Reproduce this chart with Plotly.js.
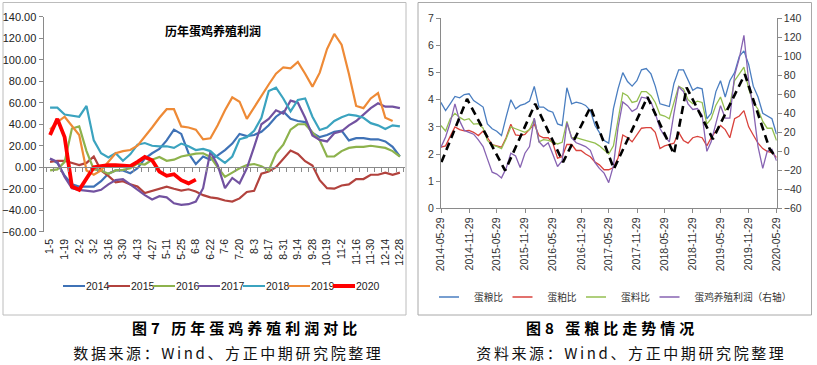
<!DOCTYPE html>
<html><head><meta charset="utf-8">
<script src="https://cdn.plot.ly/plotly-3.0.1.min.js"></script>
<style>html,body{margin:0;padding:0;background:#fff;overflow:hidden}#chart{width:817px;height:365px}</style>
</head><body><div id="chart"></div>
<script>
// ---------- Figure 7: weekly layer-farming profit by year ----------
const weeks = ["1-5","1-12","1-19","1-26","2-2","2-23","3-2","3-9","3-16","3-23","3-30","4-6","4-13","4-20","4-27","5-4","5-11","5-18","5-25","6-1","6-8","6-15","6-22","6-29","7-6","7-13","7-20","7-27","8-3","8-10","8-17","8-24","8-31","9-7","9-14","9-21","9-28","10-12","10-19","10-26","11-2","11-9","11-16","11-23","11-30","12-7","12-14","12-21","12-28"];
const years = ["2014","2015","2016","2017","2018","2019","2020"];
const profit2014 = [8,4,-8,-16,-18,-18,-18,-13,-6,-3,-3,-5.6,-1,8,13,17,25,35,31,13,3,10,7,11,16,22,31,29,30,33,39,47,52,45,43,42,32,28,30,33,34,25,27,27,26,26,24,19,10];
const profit2015 = [5,6,6,3.7,2,4,10,-3,-8,-14,-13,-16,-18,-24,-22,-20,-18,-20,-21.7,-20.5,-22.6,-26,-28,-29,-31,-32,-29,-23,-22,-6,-4,0,8,15.5,12.4,5.6,1.5,-12,-19.5,-20,-17,-16,-11,-11,-7,-7,-5,-7,-5];
const profit2016 = [-3,-2,5,36,38,15,-2,-3,-6,-3,-2.5,-1,3.4,2.5,7,9.6,6,7,10,11,12.7,13,9.6,0,-9,-5,-1,2,3,1,-3,13,21,35,40,40,32,25,10,10,15,18,19,19,20,19,18,15,10];
const profit2017 = [8,5,-9,-19.5,-21,-22,-22.6,-21,-16,-12,-11,-16,-21,-26,-30,-27,-28,-33.5,-35,-34.4,-32,-19.5,14.5,2,-19.5,-10,-15,-1,19,40,45,53,50,62,60,46,29.5,25.4,24,31.6,33.5,39,43,49,55,59.5,56.4,56.4,55];
const profit2018 = [55.5,55.5,49,48,47,57,25,13,9,13,6,12,21,22.5,20,19.5,19.5,18,22,19.5,16,17,15,9,4,10,26,28,34,46,71,74,64,52,62.6,64,47,34.7,37,43,46.5,49,48,46,41,39,35.6,39,38];
const profit2019 = [35,42,47,39,30,-3,-7,-3,5,13,15,16,20,28,37,46,54,54,38,37,35,26,27,39,53,65,61,45,56,67,77,87,93,92,98,87,75,88,110,124,114,87,57,55,64,69,46,43];
const profit2020 = [30,45,28,-18,-21,-10,0,1,2,2,1.5,1,5,9.5,6.5,-4,-8,-6.5,-12,-15,-11.5];
const profitByYear = [profit2014,profit2015,profit2016,profit2017,profit2018,profit2019,profit2020];

// ---------- Figure 8: egg / feed price ratios (monthly, 2014-05 .. 2020-05) ----------
const ratioTicks = ["2014-05-29","2014-11-29","2015-05-29","2015-11-29","2016-05-29","2016-11-29","2017-05-29","2017-11-29","2018-05-29","2018-11-29","2019-05-29","2019-11-29","2020-05-29"];
const eggGrain = [3.9,3.6,3.85,4.12,4.07,4.19,4.22,3.97,3.85,3.73,3.11,2.93,2.84,2.68,3.36,4.0,3.67,3.79,3.85,3.95,4.49,3.73,3.73,3.6,3.54,3.11,3.05,4.44,3.85,3.91,3.87,3.79,3.6,3.05,2.8,2.5,2.4,3.67,4.4,5.0,4.67,4.5,4.7,5.1,5.15,4.95,4.5,3.85,3.8,3.75,4.6,5.1,5.1,4.7,4.35,4.45,4.4,3.3,3.5,4.3,4.7,4.1,4.7,5.0,5.6,5.8,5.3,4.5,4.1,3.5,3.4,3.3,2.73];
const eggMeal = [2.25,2.3,2.65,3.0,2.9,2.85,2.87,2.8,2.68,2.85,2.6,2.35,2.3,2.25,2.6,3.1,2.7,2.68,2.72,2.9,3.1,2.68,2.6,2.6,2.4,1.85,1.9,2.35,2.35,2.13,2.13,2.0,1.9,1.7,1.6,1.42,1.42,1.5,1.85,2.7,2.6,2.45,2.7,2.95,2.97,2.97,2.8,2.2,2.3,2.35,2.4,2.8,2.5,2.4,2.6,2.65,2.6,2.3,2.6,2.85,3.05,2.9,2.6,3.3,3.4,3.6,3.0,2.7,2.4,2.2,2.1,2.05,1.87];
const eggFeed = [3.05,2.85,3.3,3.5,3.35,3.25,3.3,3.1,3.12,2.95,2.5,2.33,2.28,2.2,2.55,3.0,2.93,2.87,2.8,2.9,3.3,2.45,2.53,2.5,2.43,2.37,2.43,3.2,2.6,2.6,2.55,2.5,2.45,2.4,2.3,2.15,2.0,2.3,3.2,4.25,4.15,3.9,3.95,4.3,4.3,4.15,3.9,3.45,3.4,3.3,3.9,4.5,4.4,4.0,3.85,3.95,3.9,3.1,3.3,3.8,4.1,3.6,3.8,4.7,4.95,5.2,4.4,3.9,3.65,3.2,2.95,2.95,2.5];
const layerProfit = [4,15,30,50,32,22,20,18,12,5,-8,-22,-24,-28,-18,-2,-5,-17,-2,5,35,10,5,9,-3,-16,-10,30,14,9,7,5,1,-12,-18,-23,-33,-15,25,52,48,42,45,57,56,52,40,24,16,10,40,68,63,50,44,45,38,0,10,30,48,35,35,80,98,122,74,45,5,-18,0,2,-10];
const cycleDates = ["2014-06-01","2014-11-15","2015-07-22","2016-02-03","2016-08-03","2017-01-29","2017-07-01","2018-02-05","2018-07-28","2018-10-19","2019-04-08","2019-11-03","2020-04-12","2020-05-08"];
const cycleValues = [-11.4,55.1,-20.3,50,-11.4,46.6,-18.6,57.1,-2.9,67.1,12.9,81.1,2.9,-2.9];
const ratioNames = ["蛋粮比","蛋粕比","蛋料比","蛋鸡养殖利润（右轴）"];

const monthDates = [];
for (let y = 2014; y <= 2020; y++) {
  for (let m = 1; m <= 12; m++) {
    if ((y === 2014 && m < 5) || (y === 2020 && m > 5)) continue;
    monthDates.push(y + "-" + String(m).padStart(2, "0") + "-28");
  }
}

const narrow = '"Liberation Sans Narrow", "Arial Narrow", "Liberation Sans", Arial, sans-serif';
const sans = '"Liberation Sans", Arial, sans-serif';
const cjk = '"Noto Sans CJK SC", "Noto Sans", sans-serif';
const axisGray = "#8a8a8a";

const weekIdx = weeks.map((_, i) => i);
const tickIdx = weekIdx.filter(i => i % 2 === 0);
const tickLab = tickIdx.map(i => weeks[i]);

const leftColors = ["#3F72B6","#B2423D","#8DB24C","#7252A0","#3BA3BF","#EE8A36","#FF0000"];
const traces = [];
years.forEach((yr, k) => {
  traces.push({
    type: "scatter", mode: "lines", name: yr,
    x: weekIdx, y: profitByYear[k],
    xaxis: yr === "2020" ? "x3" : "x", yaxis: "y",
    line: {color: leftColors[k], width: yr === "2020" ? 3.8 : 2.2},
    legend: "legend", hoverinfo: "skip"
  });
});

const rightColors = ["#4A7EC0","#D9423C","#94BF50","#8763B2"];
const rightSeries = [eggGrain, eggMeal, eggFeed, layerProfit];
rightSeries.forEach((s, k) => {
  traces.push({
    type: "scatter", mode: "lines", name: ratioNames[k],
    x: monthDates, y: s,
    xaxis: "x2", yaxis: k === 3 ? "y3" : "y2",
    line: {color: rightColors[k], width: 1.3},
    legend: "legend2", hoverinfo: "skip"
  });
});
traces.push({
  type: "scatter", mode: "lines", x: cycleDates, y: cycleValues,
  xaxis: "x2", yaxis: "y3", showlegend: false,
  line: {color: "#000", width: 2.6, dash: "8px,5px"}, hoverinfo: "skip"
});

const W = 817, H = 365;
const px = v => v / W, py = v => 1 - v / H;

function note(text, x, y, size, color, bold) {
  return {text: bold ? "<b>" + text + "</b>" : text, xref: "paper", yref: "paper",
          x: px(x), y: py(y), xanchor: "center", yanchor: "middle", showarrow: false,
          font: {family: cjk, size: size, color: color}};
}

const layout = {
  width: W, height: H, autosize: false,
  margin: {l: 0, r: 0, t: 0, b: 0},
  paper_bgcolor: "#fff", plot_bgcolor: "rgba(0,0,0,0)",
  font: {family: sans, color: "#222"},
  showlegend: true,
  xaxis: {
    domain: [px(43.5), px(405)], range: [-0.9, 48.7], anchor: "y",
    tickmode: "array", tickvals: tickIdx, ticktext: tickLab, tickangle: -90,
    ticks: "", showline: false, showgrid: false, zeroline: false,
    ticklabelstandoff: 4,
    tickfont: {family: narrow, size: 10.5, color: "#222"}
  },
  xaxis3: {
    overlaying: "x", anchor: "free", position: 1 - 167.3 / H, range: [-0.9, 48.7],
    tickmode: "linear", tick0: -0.5, dtick: 1, ticks: "outside", ticklen: 4,
    tickcolor: axisGray, showticklabels: false, showline: true, linecolor: axisGray,
    linewidth: 1, showgrid: false, zeroline: false
  },
  yaxis: {
    domain: [py(231.7), py(16.8)], range: [-60, 140], anchor: "x",
    tickmode: "linear", tick0: -60, dtick: 20, tickformat: ".2f",
    ticks: "outside", ticklen: 4, tickcolor: axisGray,
    showline: true, linecolor: axisGray, showgrid: false, zeroline: false,
    tickfont: {family: narrow, size: 11, color: "#222"}
  },
  xaxis2: {
    domain: [px(441), px(776.7)], type: "date", range: ["2014-05-29", "2020-05-29"], anchor: "y2",
    tickmode: "array", tickvals: ratioTicks, ticktext: ratioTicks, tickangle: -90,
    ticks: "outside", ticklen: 4, tickcolor: axisGray,
    showline: true, linecolor: axisGray, showgrid: false, zeroline: false,
    tickfont: {family: sans, size: 10.5, color: "#333"}
  },
  yaxis2: {
    domain: [py(208.3), py(18.3)], range: [0, 7], anchor: "x2",
    tickmode: "linear", tick0: 0, dtick: 1,
    ticks: "outside", ticklen: 4, tickcolor: axisGray,
    showline: true, linecolor: axisGray, showgrid: false, zeroline: false,
    tickfont: {family: sans, size: 10.5, color: "#333"}
  },
  yaxis3: {
    overlaying: "y2", side: "right", anchor: "x2", range: [-60, 140],
    tickmode: "linear", tick0: -60, dtick: 20,
    ticks: "outside", ticklen: 4, tickcolor: axisGray,
    showline: true, linecolor: axisGray, showgrid: false, zeroline: false,
    tickfont: {family: sans, size: 10.5, color: "#333"}
  },
  legend: {
    orientation: "h", x: px(58), y: py(286), xanchor: "left", yanchor: "middle",
    bgcolor: "rgba(0,0,0,0)", borderwidth: 0, itemwidth: 30,
    font: {family: narrow, size: 10.5, color: "#222"}, itemclick: false
  },
  legend2: {
    orientation: "h", x: px(434), y: py(297), xanchor: "left", yanchor: "middle",
    bgcolor: "rgba(0,0,0,0)", borderwidth: 0, itemwidth: 30,
    font: {family: cjk, size: 9.7, color: "#333"}, itemclick: false
  },
  shapes: [
    {type: "rect", xref: "paper", yref: "paper", x0: px(3), x1: px(406), y0: py(315), y1: py(2.5),
     line: {color: "#bcbcbc", width: 1}, layer: "below"},
    {type: "rect", xref: "paper", yref: "paper", x0: px(418), x1: px(811.5), y0: py(315), y1: py(2.5),
     line: {color: "#a8a8a8", width: 1}, layer: "below"}
  ],
  annotations: [
    note("历年蛋鸡养殖利润", 213, 31, 12, "#000", true),
    note("图7 历年蛋鸡养殖利润对比", 246.7, 327, 15, "#000", true),
    note("图8 蛋粮比走势情况", 611.5, 327, 15, "#000", true),
    note("数据来源：Wind、方正中期研究院整理", 228, 352, 15, "#111", false),
    note("资料来源：Wind、方正中期研究院整理", 631, 352, 15, "#111", false)
  ]
};

function compactLegend(cls, pitch, lineLen, textX) {
  try {
    const leg = document.querySelector("g." + cls);
    if (!leg) return;
    const items = leg.querySelectorAll("g.traces");
    let x0 = null;
    items.forEach((g, k) => {
      const tr = g.getAttribute("transform") || "";
      const m = /translate\(\s*([-\d.e]+)[ ,]+([-\d.e]+)\s*\)/.exec(tr);
      const x = m ? parseFloat(m[1]) : 0, y = m ? parseFloat(m[2]) : 0;
      if (x0 === null) x0 = x;
      g.setAttribute("transform", "translate(" + (x0 + k * pitch) + "," + y + ")");
      g.querySelectorAll(".legendlines path").forEach(p => p.setAttribute("d", "M5,0h" + lineLen));
      const t = g.querySelector("text.legendtext");
      if (t) t.setAttribute("x", textX);
    });
  } catch (e) {}
}

function trackCaptions() {
  try {
    document.querySelectorAll("g.annotation text.annotation-text").forEach(t => {
      const s = t.textContent;
      if (s.indexOf("图") === 0) t.style.letterSpacing = "4px";
      else if (s.indexOf("来源") > 0) t.style.letterSpacing = "2.6px";
    });
  } catch (e) {}
}

Plotly.newPlot("chart", traces, layout, {staticPlot: true, displayModeBar: false}).then(() => {
  compactLegend("legend", 45, 22, 28);
  compactLegend("legend2", 73.5, 20, 27);
  trackCaptions();
});
</script>
</body></html>
